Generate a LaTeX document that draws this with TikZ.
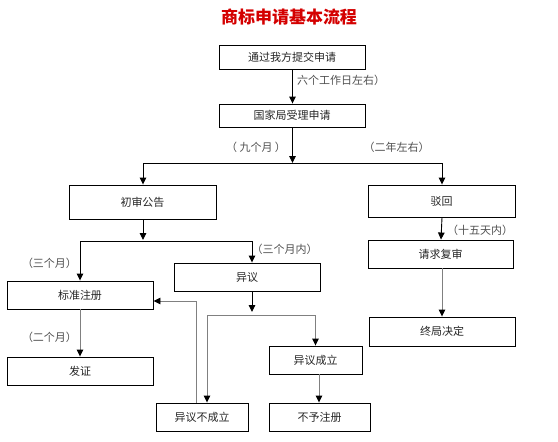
\documentclass[tikz,border=0pt]{standalone}
\usepackage{fontspec}
\usetikzlibrary{arrows.meta}
\newfontfamily\cjk{Noto Sans CJK SC}
\definecolor{titlered}{HTML}{D40000}
\definecolor{linegray}{HTML}{808080}
\definecolor{labelgray}{HTML}{505050}
\begin{document}
\begin{tikzpicture}[x=1pt,y=-1pt,
  box/.style={draw=black,line width=0.9pt,fill=white,inner sep=0pt,font=\cjk\fontsize{11}{13}\selectfont,text=black!85},
  lab/.style={inner sep=0pt,font=\cjk\fontsize{11}{13}\selectfont,text=labelgray},
  blk/.style={draw=black,line width=0.9pt},
  gry/.style={draw=linegray,line width=0.9pt},
  tip/.style={-{Triangle[length=7pt,width=6.5pt,color=black]}}
]
\useasboundingbox (0,0) rectangle (558,442);
\node[font=\cjk\bfseries\fontsize{17}{20}\selectfont,text=titlered,inner sep=0pt] (title) at (289,17) {商标申请基本流程};

\node[box,minimum width=146pt,minimum height=24pt] (b1) at (292,57) {通过我方提交申请};
\node[box,minimum width=146pt,minimum height=23pt] (b2) at (292,115.5) {国家局受理申请};
\node[box,minimum width=147pt,minimum height=34pt] (b3) at (142.5,202) {初审公告};
\node[box,minimum width=147pt,minimum height=32pt] (b4) at (441.5,201) {驳回};
\node[box,minimum width=146pt,minimum height=28pt] (b5) at (80,295) {标准注册};
\node[box,minimum width=146pt,minimum height=28pt] (b6) at (247,277) {异议};
\node[box,minimum width=145pt,minimum height=28pt] (b7) at (440.5,254) {请求复审};
\node[box,minimum width=146pt,minimum height=29pt] (b8) at (442,331.5) {终局决定};
\node[box,minimum width=146pt,minimum height=28pt] (b9) at (80,371) {发证};
\node[box,minimum width=93pt,minimum height=28pt] (b10) at (315.5,360) {异议成立};
\node[box,minimum width=92pt,minimum height=28pt] (b11) at (202,417) {异议不成立};
\node[box,minimum width=101pt,minimum height=28pt] (b12) at (319.5,417) {不予注册};

\coordinate (j1) at (292.5,163);
\coordinate (j2) at (143,240);
\coordinate (j3) at (252,312);
\coordinate (j3b) at (252,315);

% labels
\node[lab,anchor=west] (l1) at (297,80) {六个工作日左右）};
\node[lab] (l2) at (256,147) {（ 九个月 ）};
\node[lab] (l3) at (396.5,147) {（二年左右）};
\node[lab] (l4) at (480,230) {（十五天内）};
\node[lab] (l5) at (284.5,249) {（三个月内）};
\node[lab] (l6) at (49.5,263) {（三个月）};
\node[lab] (l7) at (49.5,337) {（二个月）};

% black connectors
\draw[blk,tip] ([xshift=0.5pt]b1.south) -- ([xshift=0.5pt]b2.north);
\draw[blk,tip] ([xshift=0.5pt]b2.south) -- (j1);
\draw[blk,tip] (j1) -| ([xshift=0.5pt]b3.north);
\draw[blk,tip] (j1) -| ([xshift=0.5pt]b4.north);
\draw[blk,tip] ([xshift=0.5pt]b3.south) -- (j2);
\draw[blk,tip] ([yshift=-1pt]j2) -| (b5.north);
\draw[blk,tip] ([yshift=-1pt]j2) -| ([xshift=5pt]b6.north);
\draw[blk,tip] ([xshift=0.5pt]b4.south) -- ([xshift=0.5pt]b7.north);
\draw[blk,tip] ([xshift=5pt]b6.south) -- (j3);

% gray connectors
\draw[gry,tip] (j3b) -| ([xshift=5pt]b11.north);
\draw[gry,tip] (j3b) -| (b10.north);
\draw[gry,tip] ([xshift=-6pt]b11.north) |- ([yshift=-6pt]b5.east);
\draw[gry,tip] (b5.south) -- (b9.north);
\draw[gry,tip] ([xshift=3.5pt]b10.south) -- ([xshift=-0.5pt]b12.north);
\draw[gry,tip] ([xshift=1.5pt]b7.south) -- (b8.north);
\end{tikzpicture}
\end{document}
